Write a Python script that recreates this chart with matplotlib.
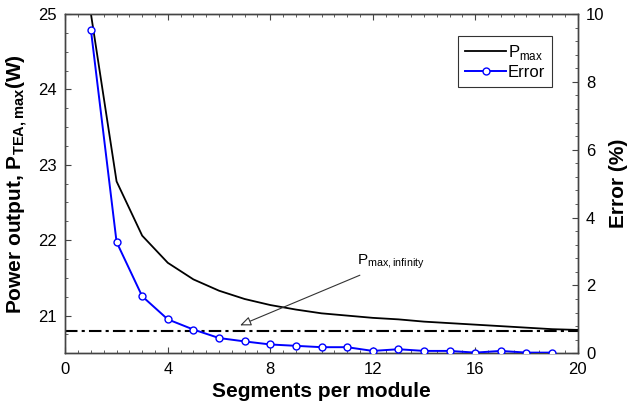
import numpy as np
import matplotlib
matplotlib.use('Agg')
import matplotlib.pyplot as plt
from matplotlib.ticker import MultipleLocator

plt.rcParams['font.family'] = ['Liberation Sans', 'DejaVu Sans']

# datos
segmentos = [1, 2, 3, 4, 5, 6, 7, 8, 9, 10, 11, 12, 13, 14, 15, 16, 17, 18, 19, 20]
pmax = [25.0, 22.78, 22.06, 21.70, 21.48, 21.33, 21.22, 21.14, 21.08, 21.03,
        21.00, 20.97, 20.95, 20.92, 20.90, 20.88, 20.86, 20.84, 20.82, 20.81]
segmentos_err = [1, 2, 3, 4, 5, 6, 7, 8, 9, 10, 11, 12, 13, 14, 15, 16, 17, 18, 19]
error = [9.52, 3.28, 1.68, 1.00, 0.70, 0.45, 0.35, 0.26, 0.22, 0.18,
         0.18, 0.07, 0.12, 0.07, 0.07, 0.02, 0.07, 0.02, 0.02]
p_infinito = 20.80

fig = plt.figure(figsize=(6.3, 4.09), dpi=100)
ax = fig.add_axes([0.1037, 0.1362, 0.8133, 0.8296])
ax2 = ax.twinx()

ax.plot(segmentos, pmax, color='black', lw=1.3, label='P$_{\\mathregular{max}}$', zorder=3)
ax.axhline(p_infinito, color='black', lw=1.5, linestyle=(0, (6, 2, 1.5, 2)), zorder=2)
l2, = ax2.plot(segmentos_err, error, color='#0000ff', lw=1.4, marker='o', ms=5,
               mfc='white', mec='#0000ff', mew=1, label='Error', zorder=3)

ax.set_xlim(0, 20)
ax.set_ylim(20.5, 25)
ax2.set_ylim(0, 10)

ax.xaxis.set_major_locator(MultipleLocator(4))
ax.xaxis.set_minor_locator(MultipleLocator(0.5))
ax.yaxis.set_major_locator(MultipleLocator(1))
ax.yaxis.set_minor_locator(MultipleLocator(0.25))
ax2.yaxis.set_major_locator(MultipleLocator(2))
ax2.yaxis.set_minor_locator(MultipleLocator(0.4))

for a in (ax, ax2):
    for s in a.spines.values():
        s.set_color('#444444')
        s.set_linewidth(1)
ax.tick_params(which='both', direction='in', top=True, right=False, labelsize=12,
               color='#444444', pad=6)
ax.tick_params(which='major', length=4)
ax.tick_params(which='minor', length=2.5)
ax2.tick_params(which='both', direction='in', labelsize=12, color='#444444', pad=6)
ax2.tick_params(which='major', length=4)
ax2.tick_params(which='minor', length=2.5)

ax.set_xlabel('Segments per module', fontsize=15, fontweight='bold', labelpad=4)
ax.set_ylabel('Power output, P$_{\\mathregular{TEA,max}}$(W)', fontsize=15,
              fontweight='bold', labelpad=6)
ax2.set_ylabel('Error (%)', fontsize=15, fontweight='bold', labelpad=3)

ax.annotate('P$_{\\mathregular{max,infinity}}$', xy=(6.82, 20.87), xytext=(11.4, 21.71),
            fontsize=11, va='center', ha='left',
            arrowprops=dict(arrowstyle='-|>,head_length=0.6,head_width=0.25',
                            fc='white', ec='#333333', lw=0.8, shrinkA=2, shrinkB=0))

h1, lb1 = ax.get_legend_handles_labels()
leg = ax2.legend(h1 + [l2], lb1 + ['Error'], loc='upper right',
                 bbox_to_anchor=(0.95, 0.935), borderaxespad=0, fontsize=12,
                 frameon=True, fancybox=False, edgecolor='black', handlelength=2.5,
                 handletextpad=0.1, borderpad=0.4, labelspacing=0.2)
leg.get_frame().set_linewidth(0.8)

fig.savefig('out.png', dpi=100)
